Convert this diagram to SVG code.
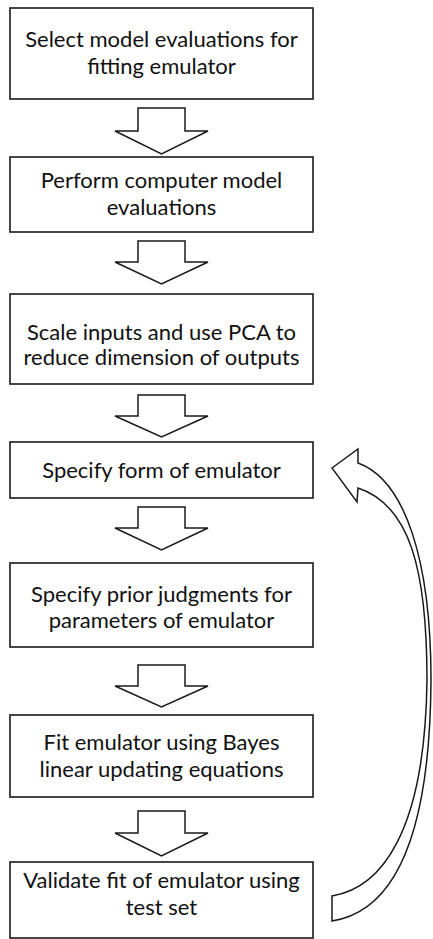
<svg xmlns="http://www.w3.org/2000/svg" width="433" height="939" viewBox="0 0 433 939">
<style>
.box{fill:#fff;stroke:#1a1a1a;stroke-width:1.6}
.arr{fill:#fff;stroke:#1a1a1a;stroke-width:1.5;stroke-linejoin:miter}
.t{font-family:Lato,"Open Sans","Liberation Sans",sans-serif;font-size:22px;fill:#111;text-anchor:middle}
</style>
<rect width="433" height="939" fill="#fff"/>
<g id="n1"><rect class="box" x="10" y="8" width="303" height="91"/>
<text class="t" x="161.5" y="47">Select model evaluations for</text>
<text class="t" x="161.5" y="74">fitting emulator</text></g>
<g id="n2"><rect class="box" x="10" y="157" width="303" height="75"/>
<text class="t" x="161.5" y="188">Perform computer model</text>
<text class="t" x="161.5" y="215">evaluations</text></g>
<g id="n3"><rect class="box" x="10" y="294" width="303" height="90"/>
<text class="t" x="161.5" y="340">Scale inputs and use PCA to</text>
<text class="t" x="161.5" y="365">reduce dimension of outputs</text></g>
<g id="n4"><rect class="box" x="10" y="442" width="303" height="56"/>
<text class="t" x="161.5" y="478">Specify form of emulator</text></g>
<g id="n5"><rect class="box" x="10" y="563" width="303" height="84"/>
<text class="t" x="161.5" y="602">Specify prior judgments for</text>
<text class="t" x="161.5" y="628">parameters of emulator</text></g>
<g id="n6"><rect class="box" x="10" y="715" width="303" height="82"/>
<text class="t" x="161.5" y="750">Fit emulator using Bayes</text>
<text class="t" x="161.5" y="777">linear updating equations</text></g>
<g id="n7"><rect class="box" x="10" y="862" width="303" height="76"/>
<text class="t" x="161.5" y="888">Validate fit of emulator using</text>
<text class="t" x="161.5" y="915">test set</text></g>
<g id="connectors">
<path class="arr" d="M138,108 H185 V131 H208 L161.5,154 L115,131 H138 Z"/>
<path class="arr" d="M138,241 H185 V262 H208 L161.5,284 L115,262 H138 Z"/>
<path class="arr" d="M138,395 H185 V416 H208 L161.5,437 L115,416 H138 Z"/>
<path class="arr" d="M138,507 H185 V528 H208 L161.5,550 L115,528 H138 Z"/>
<path class="arr" d="M138,665 H185 V686 H208 L161.5,707 L115,686 H138 Z"/>
<path class="arr" d="M138,811 H185 V833 H208 L161.5,856 L115,833 H138 Z"/>
<path class="arr" d="M332,468 L358,449 L358,463 C405,480 431,560 431,680 C430,845 390,912 332,921 L332,896 C380,888 425,835 427,680 C427,570 410,505 358,488 L357,502 Z"/>
</g>
</svg>
